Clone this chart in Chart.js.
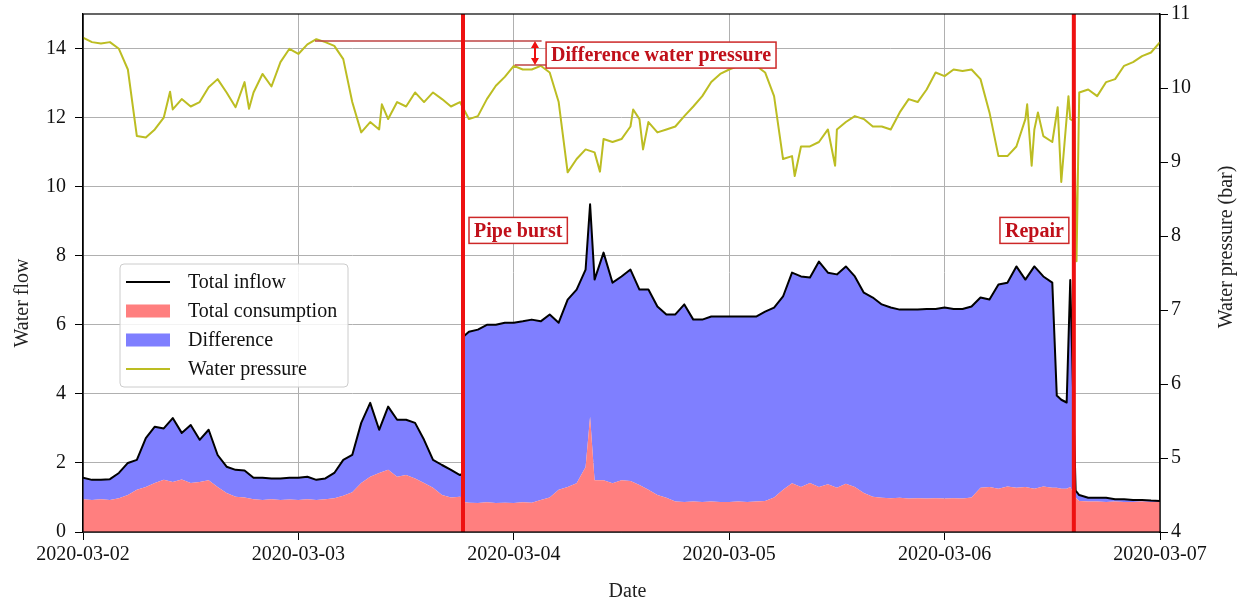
<!DOCTYPE html>
<html>
<head>
<meta charset="utf-8">
<script src="https://cdn.jsdelivr.net/npm/chart.js@4.4.1/dist/chart.umd.min.js"></script>
<style>
  html, body { margin: 0; padding: 0; background: #ffffff; }
  #wrap { width: 1240px; height: 604px; }
</style>
</head>
<body>
<div id="wrap"><canvas id="chart" width="1240" height="604"></canvas></div>
<script>
// ---- data (hourly samples, hour 0 = 2020-03-02 00:00) ----
const dateLabels = ['2020-03-02', '2020-03-03', '2020-03-04', '2020-03-05', '2020-03-06', '2020-03-07'];

const inflowHourly = [
  1.57, 1.51, 1.51, 1.53, 1.71, 2.00, 2.09, 2.72, 3.05, 3.00, 3.30, 2.87,
  3.10, 2.67, 2.96, 2.23, 1.89, 1.80, 1.78, 1.57, 1.57, 1.55, 1.55, 1.57,
  1.57, 1.60, 1.51, 1.55, 1.71, 2.09, 2.23, 3.16, 3.74, 2.96, 3.63, 3.25,
  3.25, 3.16, 2.67, 2.09, 1.94, 1.80, 1.65, 5.80, 5.86, 6.00, 6.00, 6.06,
  6.06, 6.10, 6.15, 6.10, 6.30, 6.06, 6.73, 7.02, 7.60, 7.31, 8.09, 7.22,
  7.40, 7.60, 7.02, 7.02, 6.53, 6.30, 6.30, 6.59, 6.15, 6.15, 6.24, 6.24,
  6.24, 6.24, 6.24, 6.24, 6.38, 6.50, 6.82, 7.51, 7.40, 7.37, 7.83, 7.51,
  7.46, 7.69, 7.40, 6.93, 6.79, 6.59, 6.50, 6.44, 6.44, 6.44, 6.46, 6.46,
  6.50, 6.46, 6.46, 6.53, 6.79, 6.73, 7.17, 7.22, 7.69, 7.31, 7.69, 7.40,
  7.22, 3.83, 7.30, 1.07, 0.99, 0.99, 0.99, 0.95, 0.95, 0.93, 0.93, 0.91,
  0.90
];

const consumptionHourly = [
  0.95, 0.93, 0.95, 0.93, 0.98, 1.07, 1.22, 1.30, 1.42, 1.51, 1.45, 1.52,
  1.42, 1.45, 1.50, 1.30, 1.13, 1.02, 1.00, 0.95, 0.93, 0.95, 0.93, 0.94,
  0.93, 0.95, 0.93, 0.95, 0.98, 1.05, 1.15, 1.42, 1.60, 1.71, 1.80, 1.60,
  1.65, 1.55, 1.42, 1.28, 1.07, 1.00, 1.02, 0.85, 0.84, 0.86, 0.84, 0.85,
  0.84, 0.86, 0.85, 0.93, 1.00, 1.22, 1.30, 1.41, 1.88, 1.50, 1.50, 1.41,
  1.50, 1.48, 1.36, 1.22, 1.07, 0.99, 0.88, 0.87, 0.88, 0.87, 0.88, 0.87,
  0.87, 0.88, 0.87, 0.88, 0.90, 1.00, 1.22, 1.41, 1.30, 1.42, 1.30, 1.38,
  1.28, 1.40, 1.30, 1.13, 1.02, 0.99, 0.98, 0.99, 0.97, 0.98, 0.97, 0.98,
  0.97, 0.98, 0.97, 1.00, 1.28, 1.30, 1.25, 1.32, 1.28, 1.30, 1.25, 1.32,
  1.28, 1.25, 1.30, 0.90, 0.88, 0.88, 0.87, 0.88, 0.87, 0.87, 0.88, 0.87,
  0.87
];

const pressureHourly = [
  10.68, 10.62, 10.60, 10.62, 10.53, 10.25, 9.35, 9.33, 9.44, 9.60, 9.71, 9.85,
  9.75, 9.81, 10.01, 10.12, 9.94, 9.74, 10.08, 9.94, 10.19, 10.02, 10.35, 10.53,
  10.46, 10.59, 10.66, 10.62, 10.57, 10.39, 9.81, 9.40, 9.54, 9.44, 9.58, 9.81,
  9.75, 9.94, 9.81, 9.94, 9.85, 9.75, 9.81, 9.58, 9.62, 9.85, 10.03, 10.15,
  10.30, 10.25, 10.25, 10.30, 10.21, 9.81, 8.86, 9.04, 9.17, 9.13, 9.31, 9.27,
  9.31, 9.48, 9.58, 9.54, 9.40, 9.44, 9.48, 9.62, 9.75, 9.89, 10.08, 10.19,
  10.25, 10.30, 10.30, 10.30, 10.21, 9.89, 9.04, 9.08, 9.21, 9.21, 9.27, 9.44,
  9.44, 9.54, 9.62, 9.58, 9.48, 9.48, 9.44, 9.67, 9.85, 9.81, 9.98, 10.21,
  10.16, 10.25, 10.23, 10.25, 10.12, 9.67, 9.08, 9.08, 9.21, 9.58, 9.44, 9.35,
  9.27, 8.73, 9.58, 9.94, 9.98, 9.89, 10.08, 10.12, 10.30, 10.35, 10.43, 10.48,
  10.62
];

// extra samples around sudden events: [hour, inflow, consumption]
const flowEventSamples = [
  [42.25, 1.68, 1.00],
  [42.40, 5.66, 0.87],
  [56.50, 9.49, 3.34],
  [108.50, 3.95, 1.28],
  [109.60, 3.75, 1.25],
  [110.60, 1.20, 1.00]
];
// extra pressure samples (short spikes and the repair drop): [hour, pressure]
const pressureEventSamples = [
  [9.70, 9.95],
  [18.50, 9.72],
  [33.30, 9.78],
  [57.60, 8.87],
  [61.30, 9.71],
  [62.40, 9.17],
  [79.30, 8.81],
  [83.80, 8.95],
  [105.20, 9.78],
  [105.70, 8.95],
  [106.40, 9.67],
  [108.60, 9.74],
  [109.80, 9.89],
  [110.45, 9.55],
  [110.70, 7.66]
];

// event markers (hours since start)
const burstHour = 42.34;
const repairHour = 110.4;

// pressure-difference marker: reference level, lower level, arrow position
const pressureRefLevel = 10.634;
const pressureRefSpan = [25.85, 51.1];
const pressureLowLevel = 10.31;
const pressureLowSpan = [48.1, 52.0];
const pressureArrowHour = 50.36;

// ---- helpers ----
function toPoints(hourly, extras, col) {
  const pts = hourly.map((v, h) => ({ x: h, y: v }));
  extras.forEach(row => pts.push({ x: row[0], y: row[col] }));
  return pts.sort((a, b) => a.x - b.x);
}

const FONT = '"Liberation Serif", "Times New Roman", serif';
const RED_FILL = 'rgb(255,127,127)';
const BLUE_FILL = 'rgb(127,127,255)';
const OLIVE = '#bcbd22';
const MARK_RED = '#ee1111';
const LABEL_RED = '#c0101a';

const inflowPts = toPoints(inflowHourly, flowEventSamples, 1);
const consumptionPts = toPoints(consumptionHourly, flowEventSamples, 2);
const pressurePts = toPoints(pressureHourly, pressureEventSamples, 1);

// ---- plugin: frame, event lines, labels, legend and axis titles ----
const decorations = {
  id: 'decorations',
  afterDatasetsDraw(chart) {
    const { ctx, chartArea: a, scales } = chart;
    const x = scales.x, y = scales.y, y1 = scales.y1;
    ctx.save();

    // pressure difference reference lines
    ctx.strokeStyle = 'rgb(190,70,70)';
    ctx.lineWidth = 1.5;
    ctx.beginPath();
    const yRef = y1.getPixelForValue(pressureRefLevel);
    ctx.moveTo(x.getPixelForValue(pressureRefSpan[0]), yRef);
    ctx.lineTo(x.getPixelForValue(pressureRefSpan[1]), yRef);
    const yLow = y1.getPixelForValue(pressureLowLevel);
    ctx.moveTo(x.getPixelForValue(pressureLowSpan[0]), yLow);
    ctx.lineTo(x.getPixelForValue(pressureLowSpan[1]), yLow);
    ctx.stroke();

    // double-headed arrow
    const xa = x.getPixelForValue(pressureArrowHour);
    ctx.strokeStyle = MARK_RED;
    ctx.fillStyle = MARK_RED;
    ctx.lineWidth = 2;
    ctx.beginPath();
    ctx.moveTo(xa, yRef + 4);
    ctx.lineTo(xa, yLow - 4);
    ctx.stroke();
    ctx.beginPath();
    ctx.moveTo(xa, yRef); ctx.lineTo(xa - 4, yRef + 7); ctx.lineTo(xa + 4, yRef + 7); ctx.closePath();
    ctx.moveTo(xa, yLow); ctx.lineTo(xa - 4, yLow - 7); ctx.lineTo(xa + 4, yLow - 7); ctx.closePath();
    ctx.fill();

    // vertical event lines
    ctx.strokeStyle = MARK_RED;
    ctx.lineWidth = 4;
    [burstHour, repairHour].forEach(h => {
      const px = x.getPixelForValue(h);
      ctx.beginPath();
      ctx.moveTo(px, a.top);
      ctx.lineTo(px, a.bottom);
      ctx.stroke();
    });

    // boxed labels
    function boxLabel(text, left, top, right) {
      ctx.font = 'bold 20px ' + FONT;
      const w = ctx.measureText(text).width + 10;
      const h = 26;
      const bx = right ? left - w : left;
      ctx.fillStyle = '#ffffff';
      ctx.fillRect(bx, top, w, h);
      ctx.strokeStyle = 'rgb(205,40,40)';
      ctx.lineWidth = 1.5;
      ctx.strokeRect(bx, top, w, h);
      ctx.fillStyle = LABEL_RED;
      ctx.textBaseline = 'middle';
      ctx.textAlign = 'left';
      ctx.fillText(text, bx + 5, top + h / 2 + 1);
    }
    const labelTop = y.getPixelForValue(9.11);
    boxLabel('Pipe burst', x.getPixelForValue(burstHour) + 6, labelTop, false);
    boxLabel('Repair', x.getPixelForValue(repairHour) - 5, labelTop, true);
    boxLabel('Difference water pressure', x.getPixelForValue(51.6), y1.getPixelForValue(pressureRefLevel) + 1, false);

    // full frame
    ctx.strokeStyle = '#000';
    ctx.lineWidth = 1.2;
    ctx.strokeRect(a.left, a.top, a.right - a.left, a.bottom - a.top);

    // legend
    const lx = a.left + 37, ly = a.top + 250, lw = 228, lh = 123;
    ctx.fillStyle = 'rgba(255,255,255,0.85)';
    ctx.strokeStyle = '#cccccc';
    ctx.lineWidth = 1;
    ctx.beginPath();
    ctx.roundRect(lx, ly, lw, lh, 4);
    ctx.fill();
    ctx.stroke();
    const legendOrder = ['Total inflow', 'Total consumption', 'Difference', 'Water pressure'];
    legendOrder.forEach((name, i) => {
      const ds = chart.data.datasets.find(d => d.label === name);
      const cy = ly + 18 + i * 29;
      if (ds.legendKind === 'patch') {
        ctx.fillStyle = ds.backgroundColor;
        ctx.fillRect(lx + 6, cy - 6.5, 44, 13);
      } else {
        ctx.strokeStyle = ds.borderColor;
        ctx.lineWidth = 2;
        ctx.beginPath();
        ctx.moveTo(lx + 6, cy);
        ctx.lineTo(lx + 50, cy);
        ctx.stroke();
      }
      ctx.fillStyle = '#111';
      ctx.font = '20px ' + FONT;
      ctx.textAlign = 'left';
      ctx.textBaseline = 'middle';
      ctx.fillText(name, lx + 68, cy + 1);
    });

    // axis titles
    ctx.fillStyle = '#222';
    ctx.font = '20px ' + FONT;
    ctx.textAlign = 'center';
    ctx.textBaseline = 'middle';
    ctx.fillText('Date', (a.left + a.right) / 2 + 6, 592);
    ctx.save();
    ctx.translate(23, 303);
    ctx.rotate(-Math.PI / 2);
    ctx.fillText('Water flow', 0, 0);
    ctx.restore();
    ctx.save();
    ctx.translate(1227, 247);
    ctx.rotate(-Math.PI / 2);
    ctx.fillText('Water pressure (bar)', 0, 0);
    ctx.restore();

    ctx.restore();
  }
};

const tickFont = { family: FONT, size: 20 };

// keep the plot box fixed: no extra room for overhanging tick labels
function noOverhang(s) {
  s.paddingTop = 0;
  s.paddingBottom = 0;
  s.paddingLeft = 0;
  s.paddingRight = 0;
}

new Chart(document.getElementById('chart'), {
  type: 'line',
  data: {
    datasets: [
      {
        label: 'Total consumption',
        legendKind: 'patch',
        data: consumptionPts,
        yAxisID: 'y',
        borderWidth: 0,
        backgroundColor: RED_FILL,
        fill: 'origin',
        order: 2
      },
      {
        label: 'Difference',
        legendKind: 'patch',
        data: inflowPts,
        yAxisID: 'y',
        borderWidth: 0,
        backgroundColor: BLUE_FILL,
        fill: { target: 0 },
        order: 3
      },
      {
        label: 'Total inflow',
        legendKind: 'line',
        data: inflowPts,
        yAxisID: 'y',
        borderColor: '#000000',
        borderWidth: 2,
        fill: false,
        order: 1
      },
      {
        label: 'Water pressure',
        legendKind: 'line',
        data: pressurePts,
        yAxisID: 'y1',
        borderColor: OLIVE,
        borderWidth: 2,
        fill: false,
        order: 0
      }
    ]
  },
  options: {
    responsive: false,
    animation: false,
    devicePixelRatio: 1,
    elements: { point: { radius: 0 }, line: { tension: 0, borderJoinStyle: 'round' } },
    layout: { padding: { top: 14, left: 0, right: 0, bottom: 0 } },
    plugins: { legend: { display: false }, tooltip: { enabled: false } },
    scales: {
      x: {
        type: 'linear',
        min: 0,
        max: 120,
        ticks: {
          stepSize: 24,
          autoSkip: false,
          maxRotation: 0,
          font: tickFont,
          color: '#111',
          padding: 3,
          callback: v => dateLabels[Math.round(v / 24)] ?? ''
        },
        grid: { color: '#b0b0b0', lineWidth: 1, tickColor: '#000', tickLength: 8 },
        border: { color: '#000', width: 1.2 },
        afterFit(s) { s.height = 72; noOverhang(s); }
      },
      y: {
        position: 'left',
        min: 0,
        max: 15,
        ticks: { stepSize: 2, includeBounds: false, font: tickFont, color: '#111', padding: 9 },
        grid: { color: '#b0b0b0', lineWidth: 1, tickColor: '#000', tickLength: 8 },
        border: { color: '#000', width: 1.2 },
        afterFit(s) { s.width = 83; noOverhang(s); }
      },
      y1: {
        position: 'right',
        min: 4,
        max: 11,
        ticks: { stepSize: 1, font: tickFont, color: '#111', padding: 3 },
        grid: { drawOnChartArea: false, tickColor: '#000', tickLength: 8 },
        border: { color: '#000', width: 1.2 },
        afterFit(s) { s.width = 80; noOverhang(s); }
      }
    }
  },
  plugins: [decorations]
});
</script>
</body>
</html>
